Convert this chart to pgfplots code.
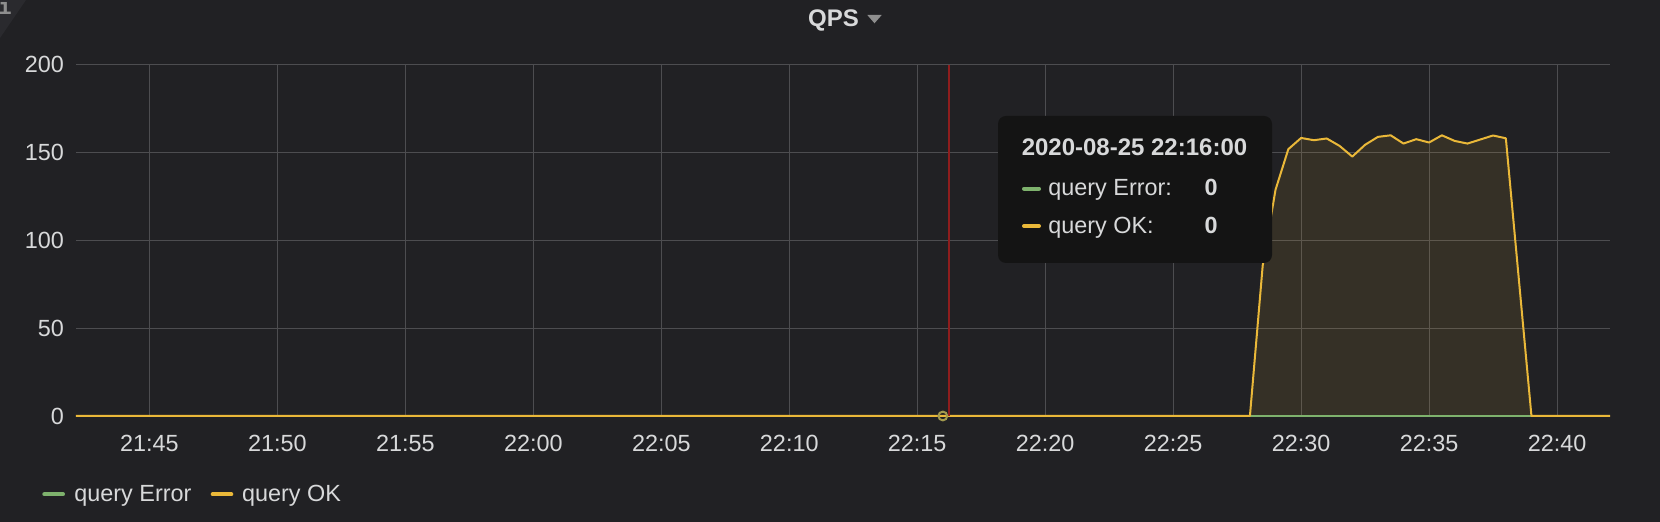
\documentclass[border=0pt]{standalone}
\usepackage{pgfplots}
\pgfplotsset{compat=1.18}
\usepackage{fontspec}
\setmainfont{Liberation Sans}
\newfontfamily\monof{DejaVu Sans Mono}
\definecolor{bg}{HTML}{212124}
\definecolor{corner}{HTML}{2A2A2E}
\definecolor{gridc}{HTML}{4D4D50}
\definecolor{txt}{HTML}{D8D9DA}
\definecolor{okc}{HTML}{EAB839}
\definecolor{errc}{HTML}{7EB26D}
\definecolor{tipbg}{HTML}{141414}
\definecolor{redl}{HTML}{8F1D1D}
\definecolor{ring}{HTML}{A39A4E}
\definecolor{tri}{HTML}{8E8E8E}

\begin{document}
\begin{tikzpicture}[x=0.5pt,y=-0.5pt]
\fill[bg] (0,0) rectangle (1660,522);
\fill[corner] (0,0) -- (26,0) -- (0,38) -- cycle;
\node[inner sep=0, anchor=base, text=tri, font=\monof\bfseries\fontsize{11}{12}\selectfont] at (5,15) {i};

\begin{axis}[
  at={(38pt,-208pt)}, anchor=south west,
  scale only axis, width=767pt, height=175.65pt,
  xmin=42.13, xmax=102.07, ymin=0, ymax=200,
  xtick={45,50,...,100},
  xticklabels={21:45,21:50,21:55,22:00,22:05,22:10,22:15,22:20,22:25,22:30,22:35,22:40},
  ytick={0,50,...,200},
  grid=major,
  major grid style={gridc, line width=0.5pt},
  axis line style={draw=none},
  major tick length=0pt,
  tick style={draw=none},
  tick label style={font=\fontsize{11.7}{14}\selectfont, text=txt},
  /pgf/number format/assume math mode=true,
  yticklabel style={anchor=east, xshift=-2.5pt},
  xticklabel style={anchor=center, yshift=-13.5pt},
  clip=false,
]
\addplot[draw=none, fill=okc, fill opacity=0.1] coordinates {
(42.13,0) (88,0) (88.5,85.8) (89,128.8) (89.5,151.9) (90,158.3) (90.5,157.0) (91,158.0) (91.5,153.8) (92,147.7) (92.5,154.4) (93,158.9) (93.5,159.8) (94,155.1) (94.5,157.6) (95,155.7) (95.5,159.8) (96,156.6) (96.5,155.1) (97,157.4) (97.5,159.7) (98,158.1) (99,0) (102.07,0)
} \closedcycle;
\addplot[errc, line width=1pt] coordinates {(42.13,0) (102.07,0)};
\addplot[okc, line width=1pt, line join=round] coordinates {
(42.13,0) (88,0) (88.5,85.8) (89,128.8) (89.5,151.9) (90,158.3) (90.5,157.0) (91,158.0) (91.5,153.8) (92,147.7) (92.5,154.4) (93,158.9) (93.5,159.8) (94,155.1) (94.5,157.6) (95,155.7) (95.5,159.8) (96,156.6) (96.5,155.1) (97,157.4) (97.5,159.7) (98,158.1) (99,0) (102.07,0)
};
\addplot[redl, line width=1pt] coordinates {(76.24,0) (76.24,200)};
\addplot[only marks, mark=o, mark size=2.2pt, mark options={draw=ring, line width=1pt}] coordinates {(76,0)};
\end{axis}

% title
\node[inner sep=0, anchor=base west, text=txt, font=\bfseries\fontsize{12}{14}\selectfont] at (807.7,26.7) {QPS};
\fill[tri] (867.3,15) -- (881.7,15) -- (874.5,23.3) -- cycle;

% tooltip
\fill[tipbg, rounded corners=4pt] (998,116) rectangle (1272,263);
\node[inner sep=0, anchor=base, text=txt, font=\bfseries\fontsize{12}{14}\selectfont] at (1134.5,155.7) {2020-08-25 22:16:00};
\draw[errc, line width=2pt, line cap=round] (1024,188.7) -- (1039,188.7);
\draw[okc, line width=2pt, line cap=round] (1024,226) -- (1039,226);
\node[inner sep=0, anchor=base west, text=txt, font=\fontsize{11.7}{14}\selectfont] at (1048,196) {query Error:};
\node[inner sep=0, anchor=base west, text=txt, font=\fontsize{11.7}{14}\selectfont] at (1048,233.3) {query OK:};
\node[inner sep=0, anchor=base, text=txt, font=\bfseries\fontsize{11.7}{14}\selectfont] at (1211,196) {0};
\node[inner sep=0, anchor=base, text=txt, font=\bfseries\fontsize{11.7}{14}\selectfont] at (1211,233.3) {0};

% legend
\draw[errc, line width=2pt, line cap=round] (44.3,494.3) -- (63,494.3);
\node[inner sep=0, anchor=base west, text=txt, font=\fontsize{11.7}{14}\selectfont] at (74,501.7) {query Error};
\draw[okc, line width=2pt, line cap=round] (212.7,494.3) -- (231.3,494.3);
\node[inner sep=0, anchor=base west, text=txt, font=\fontsize{11.7}{14}\selectfont] at (241.7,501.7) {query OK};

\pgfresetboundingbox
\useasboundingbox (0,0) rectangle (1660,522);
\end{tikzpicture}
\end{document}
